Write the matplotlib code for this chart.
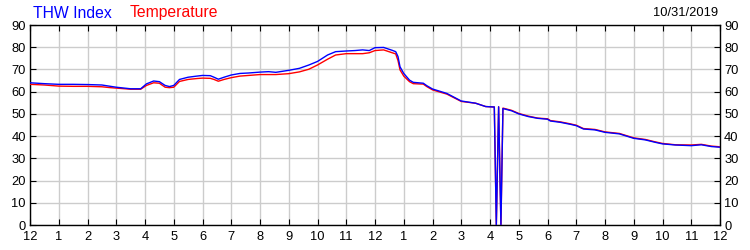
import matplotlib
matplotlib.use("Agg")
import matplotlib.pyplot as plt

plt.rcParams['font.family'] = ['Liberation Sans', 'DejaVu Sans']

hours = [0, 0.5, 1, 1.5, 2, 2.5, 2.8, 3.0, 3.5, 3.85,
         4.05, 4.3, 4.5, 4.7, 4.85, 5.0, 5.2, 5.5, 5.8, 6.0,
         6.27, 6.4, 6.55, 6.75, 7.0, 7.3, 7.6, 8.0, 8.3, 8.55,
         9.0, 9.37, 9.7, 10.0, 10.35, 10.63, 11.0, 11.3, 11.57, 11.8,
         12.0, 12.3, 12.6, 12.72, 12.8, 12.87, 13.0, 13.2, 13.33, 13.68,
         13.8, 14.0, 14.5, 15.0, 15.5, 15.85, 16.15, 16.22, 16.3, 16.38,
         16.45, 16.75, 17.0, 17.33, 17.66, 18.0, 18.1, 18.45, 18.8, 19.0,
         19.25, 19.65, 20.0, 20.5, 21.0, 21.4, 21.75, 22.0, 22.45, 23.0,
         23.35, 23.7, 24.0]

thw_index = [64.0, 63.6, 63.3, 63.3, 63.2, 63.0, 62.4, 62.0, 61.3, 61.3,
             63.5, 64.8, 64.5, 62.8, 62.3, 62.8, 65.5, 66.5, 67.0, 67.3,
             67.2, 66.5, 65.6, 66.5, 67.5, 68.2, 68.4, 68.8, 69.0, 68.7,
             69.6, 70.5, 72.0, 73.6, 76.5, 78.0, 78.3, 78.5, 78.8, 78.5,
             79.8, 79.9, 78.6, 78.0, 75.8, 71.2, 68.2, 65.2, 64.2, 63.8,
             62.7, 61.2, 59.2, 55.8, 54.8, 53.3, 53.1, 0.0, 53.2, 0.0,
             52.4, 51.4, 50.0, 48.8, 48.0, 47.6, 46.8, 46.2, 45.3, 44.7,
             43.2, 42.8, 41.7, 41.0, 39.0, 38.3, 37.2, 36.5, 36.0, 35.7,
             36.1, 35.3, 35.0]

temperature = [63.3, 63.0, 62.5, 62.4, 62.4, 62.2, 61.8, 61.6, 61.1, 61.1,
               62.8, 64.0, 63.8, 62.0, 61.8, 62.0, 64.6, 65.5, 65.9, 66.1,
               66.0, 65.5, 64.7, 65.5, 66.3, 67.0, 67.3, 67.7, 67.7, 67.7,
               68.1, 68.9, 70.1, 72.0, 74.6, 76.5, 77.1, 77.1, 77.1, 77.5,
               78.5, 78.8, 77.5, 77.0, 74.0, 69.8, 67.0, 64.5, 63.6, 63.4,
               62.3, 60.8, 58.9, 55.6, 54.8, 53.3, 53.1, 0.0, 53.2, 0.0,
               52.6, 51.6, 50.2, 49.0, 48.1, 47.8, 47.0, 46.4, 45.5, 44.9,
               43.4, 43.0, 41.9, 41.2, 39.2, 38.5, 37.4, 36.7, 36.1, 36.0,
               36.3, 35.5, 35.2]

x_ticks = list(range(0, 25))
x_labels = ["12"] + [str(i) for i in range(1, 12)] + ["12"] + [str(i) for i in range(1, 12)] + ["12"]
y_ticks = list(range(0, 91, 10))

fig = plt.figure(figsize=(7.5, 2.5), dpi=100)
ax = fig.add_axes([0.04, 0.10, 0.92, 0.80])

ax.plot(hours, temperature, color='#ff0000', lw=1.0, zorder=3)
ax.plot(hours, thw_index, color='#0000ff', lw=1.0, zorder=4)

ax.set_xlim(0, 24)
ax.set_ylim(0, 90)
ax.set_xticks(x_ticks)
ax.set_xticklabels(x_labels)
ax.set_yticks(y_ticks)
ax.grid(True, color='#cccccc', lw=1.0, zorder=0)
ax.set_axisbelow(True)
for s in ax.spines.values():
    s.set_color('black')
    s.set_linewidth(1.0)
ax.tick_params(axis='x', direction='in', top=True, bottom=True, length=4,
               labelsize=9.3, pad=4, colors='black')
ax.tick_params(axis='y', direction='in', left=True, right=True, length=4,
               labelsize=9.3, pad=3, labelleft=True, labelright=True, colors='black')

fig.text(0.044, 0.948, "THW Index", color='#0000ff', fontsize=11.3, va='center', ha='left')
fig.text(0.173, 0.948, "Temperature", color='#ff0000', fontsize=11.3, va='center', ha='left')
fig.text(0.958, 0.948, "10/31/2019", color='black', fontsize=9.3, va='center', ha='right')

fig.savefig("out.png", dpi=100)
